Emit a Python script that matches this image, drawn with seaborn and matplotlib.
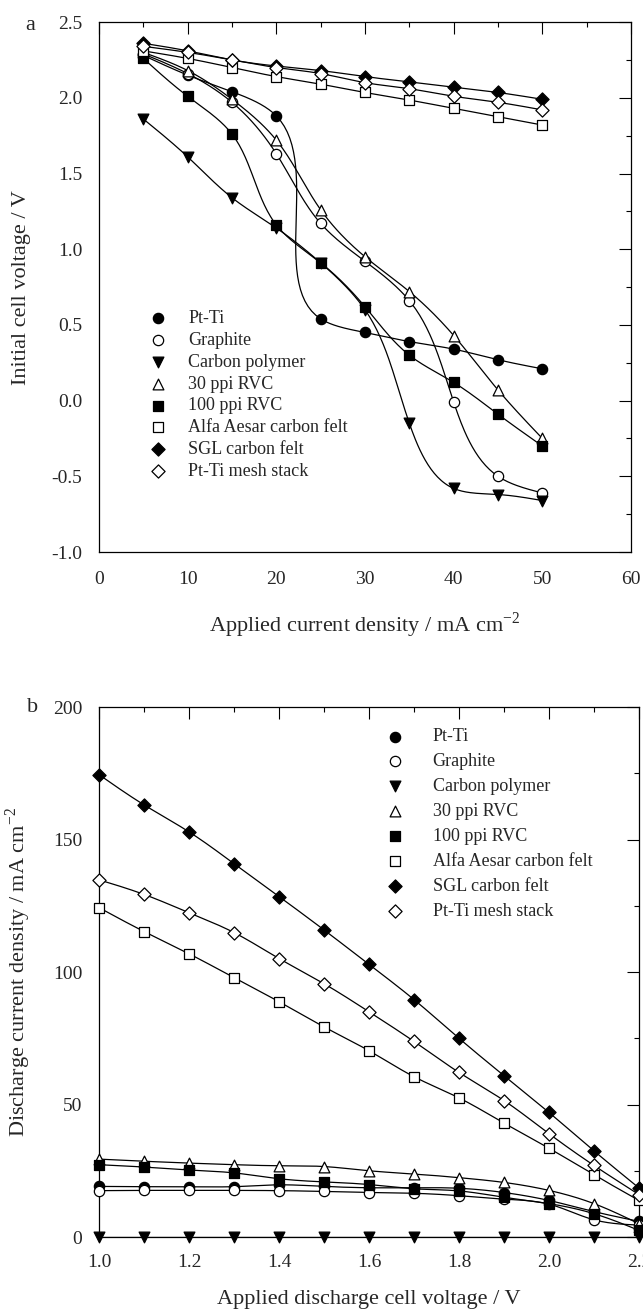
import numpy as np
import matplotlib
matplotlib.use("Agg")
import matplotlib.pyplot as plt
import seaborn as sns

# panel a: applied current density (mA cm-2) vs initial cell voltage (V)
current_a = [5, 10, 15, 20, 25, 30, 35, 40, 45, 50]
pt_ti_a = [2.28, 2.15, 2.04, 1.88, 0.54, 0.45, 0.39, 0.34, 0.27, 0.21]
graphite_a = [2.29, 2.16, 1.97, 1.63, 1.17, 0.92, 0.66, -0.01, -0.50, -0.61]
carbon_poly_a = [1.86, 1.61, 1.34, 1.14, 0.91, 0.60, -0.15, -0.58, -0.62, -0.66]
rvc30_a = [2.30, 2.18, 1.99, 1.72, 1.26, 0.95, 0.72, 0.43, 0.07, -0.25]
rvc100_a = [2.26, 2.01, 1.76, 1.16, 0.91, 0.62, 0.30, 0.12, -0.09, -0.30]
alfa_a = [2.31, 2.26, 2.20, 2.14, 2.09, 2.035, 1.985, 1.93, 1.875, 1.82]
sgl_a = [2.36, 2.31, 2.25, 2.21, 2.18, 2.14, 2.105, 2.07, 2.035, 1.99]
mesh_a = [2.34, 2.30, 2.25, 2.20, 2.16, 2.10, 2.06, 2.01, 1.97, 1.92]

# panel b: applied discharge cell voltage (V) vs discharge current density
voltage_b = [1.0, 1.1, 1.2, 1.3, 1.4, 1.5, 1.6, 1.7, 1.8, 1.9, 2.0, 2.1, 2.2]
pt_ti_b = [19.1, 19.0, 19.0, 19.0, 19.7, 19.1, 18.6, 18.6, 18.4, 16.8, 13.8, 9.6, 5.9]
graphite_b = [17.5, 17.6, 17.6, 17.6, 17.5, 17.2, 16.8, 16.5, 15.6, 14.3, 12.4, 6.5, 4.5]
carbon_poly_b = [0, 0, 0, 0, 0, 0, 0, 0, 0, 0, 0, 0, 0]
rvc30_b = [29.4, 28.6, 27.9, 27.3, 26.9, 26.6, 25.0, 23.8, 22.4, 20.6, 17.6, 12.6, 5.0]
rvc100_b = [27.3, 26.4, 25.3, 24.2, 22.0, 20.8, 19.8, 18.2, 17.4, 15.0, 12.6, 8.8, 2.5]
alfa_b = [124.3, 115.3, 106.9, 97.9, 88.8, 79.3, 70.3, 60.5, 52.5, 43.0, 33.5, 23.5, 13.8]
sgl_b = [174.5, 163.1, 152.9, 140.9, 128.5, 115.9, 102.9, 89.6, 75.0, 60.9, 47.0, 32.5, 18.5]
mesh_b = [134.8, 129.3, 122.4, 114.9, 105.1, 95.6, 85.0, 73.8, 62.1, 51.5, 39.0, 27.0, 16.0]

names = ['Pt-Ti', 'Graphite', 'Carbon polymer', '30 ppi RVC', '100 ppi RVC',
         'Alfa Aesar carbon felt', 'SGL carbon felt', 'Pt-Ti mesh stack']
markers = ['o', 'o', 'v', '^', 's', 's', 'D', 'D']
faces = ['black', 'white', 'black', 'white', 'black', 'white', 'black', 'white']
sizes = [55, 55, 60, 60, 50, 50, 45, 45]

series_a = [pt_ti_a, graphite_a, carbon_poly_a, rvc30_a, rvc100_a, alfa_a, sgl_a, mesh_a]
series_b = [pt_ti_b, graphite_b, carbon_poly_b, rvc30_b, rvc100_b, alfa_b, sgl_b, mesh_b]


def natural(t, v, n=30):
    # natural cubic spline of v over knots t, sampled n times per interval
    k = len(t)
    h = np.diff(t)
    A = np.zeros((k, k))
    b = np.zeros(k)
    A[0, 0] = A[-1, -1] = 1
    for i in range(1, k - 1):
        A[i, i - 1] = h[i - 1]
        A[i, i] = 2 * (h[i - 1] + h[i])
        A[i, i + 1] = h[i]
        b[i] = 3 * ((v[i + 1] - v[i]) / h[i] - (v[i] - v[i - 1]) / h[i - 1])
    c = np.linalg.solve(A, b)
    out = []
    for i in range(k - 1):
        s = np.linspace(0, h[i], n, endpoint=(i == k - 2))
        bi = (v[i + 1] - v[i]) / h[i] - h[i] * (2 * c[i] + c[i + 1]) / 3
        di = (c[i + 1] - c[i]) / (3 * h[i])
        out.append(v[i] + bi * s + c[i] * s ** 2 + di * s ** 3)
    return np.concatenate(out)


def curve(x, y, sx, sy):
    # parametric spline in screen units (chord length), for the connecting line
    px = np.asarray(x, float) * sx
    py = np.asarray(y, float) * sy
    d = np.maximum(np.hypot(np.diff(px), np.diff(py)), 1e-6)
    t = np.concatenate([[0], np.cumsum(d)])
    return natural(t, px) / sx, natural(t, py) / sy


sns.set_style('white')
plt.rcParams['font.family'] = ['Liberation Serif', 'DejaVu Serif']
plt.rcParams['mathtext.fontset'] = 'custom'
plt.rcParams['mathtext.rm'] = 'Liberation Serif'

fig = plt.figure(figsize=(6.43, 13.15), dpi=100)
ax_a = fig.add_axes([0.154, 0.5802, 0.8274, 0.4030])
ax_b = fig.add_axes([0.154, 0.0593, 0.8398, 0.4030])


def draw(ax, x, series, sx, sy):
    for name, ys, m, fc, s in zip(names, series, markers, faces, sizes):
        cx, cy = curve(x, ys, sx, sy)
        ax.plot(cx, cy, color='black', lw=0.9, zorder=2)
        sns.scatterplot(x=x, y=ys, ax=ax, marker=m, s=s, color=fc,
                        edgecolor='black', linewidth=0.9, label=name,
                        zorder=3, clip_on=False)
    for sp in ax.spines.values():
        sp.set_color('black')
        sp.set_linewidth(0.9)
    ax.tick_params(which='both', direction='in', top=True, right=True,
                   color='black', width=0.8, labelsize=14, pad=12)
    ax.tick_params(which='major', length=8.5)
    ax.tick_params(which='minor', length=3.5)


# screen pixels per data unit, so the spline is smooth on the page
draw(ax_a, current_a, series_a, 532 / 60, 530 / 3.5)
ax_a.set_xlim(0, 60)
ax_a.set_ylim(-1.0, 2.5)
ax_a.set_xticks(np.arange(0, 61, 10))
ax_a.set_xticks(np.arange(5, 60, 10), minor=True)
ax_a.set_yticks(np.arange(-1.0, 2.51, 0.5))
ax_a.set_yticks(np.arange(-0.75, 2.5, 0.5), minor=True)
ax_a.set_yticklabels(['%.1f' % v for v in np.arange(-1.0, 2.51, 0.5)])
ax_a.tick_params(axis='x', which='both', pad=14)
ax_a.set_xlabel('Applied current density / mA cm$^{-2}$', fontsize=16, va='center')
ax_a.set_ylabel('Initial cell voltage / V', fontsize=16)
ax_a.xaxis.set_label_coords(0.5, -0.138)
ax_a.yaxis.set_label_coords(-0.128, 0.5)
ax_a.legend(loc='upper left', bbox_to_anchor=(0.076, 0.47), frameon=False,
            fontsize=13, handletextpad=1.1, labelspacing=0.265,
            handlelength=1.2, borderaxespad=0)

draw(ax_b, voltage_b, series_b, 540 / 1.2, 530 / 200)
ax_b.set_xlim(1.0, 2.2)
ax_b.set_ylim(0, 200)
ax_b.set_xticks(np.arange(1.0, 2.21, 0.2))
ax_b.set_xticks(np.arange(1.1, 2.2, 0.2), minor=True)
ax_b.set_xticklabels(['%.1f' % v for v in np.arange(1.0, 2.21, 0.2)])
ax_b.set_yticks(np.arange(0, 201, 50))
ax_b.set_yticks(np.arange(25, 200, 50), minor=True)
ax_b.set_xlabel('Applied discharge cell voltage / V', fontsize=16, va='center')
ax_b.set_ylabel('Discharge current density / mA cm$^{-2}$', fontsize=16)
ax_b.xaxis.set_label_coords(0.5, -0.117)
ax_b.yaxis.set_label_coords(-0.122, 0.5)
ax_b.legend(loc='upper left', bbox_to_anchor=(0.515, 0.9736), frameon=False,
            fontsize=13, handletextpad=1.47, labelspacing=0.44,
            handlelength=1.2, borderaxespad=0)

fig.text(30 / 643, 1 - 25 / 1315, 'a', fontsize=16, ha='center', va='center')
fig.text(33 / 643, 1 - 707 / 1315, 'b', fontsize=16, ha='center', va='center')

fig.savefig('out.png', dpi=100)
